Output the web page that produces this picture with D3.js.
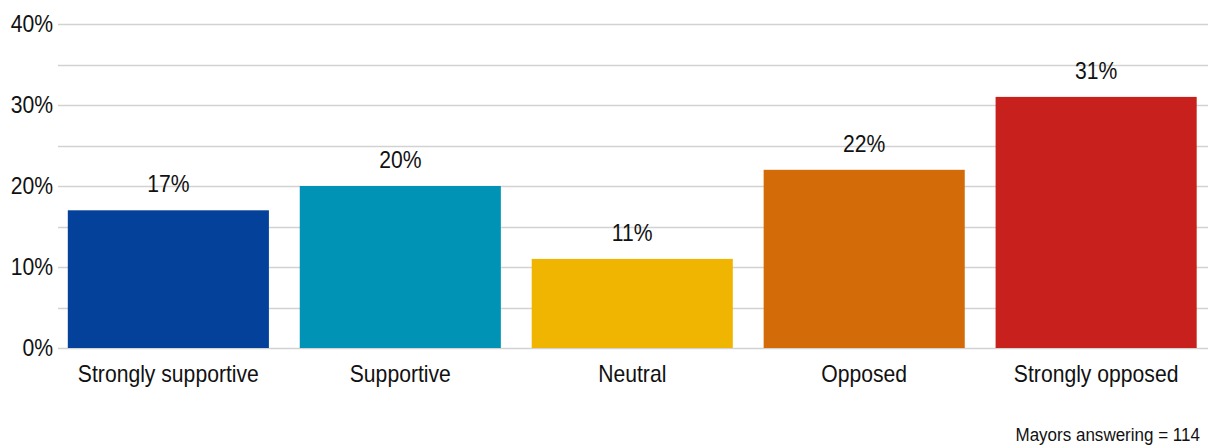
<!DOCTYPE html>
<html>
<head>
<meta charset="utf-8">
<script src="https://cdn.jsdelivr.net/npm/d3@7"></script>
<style>
  html, body { margin: 0; padding: 0; background: #fff; }
  svg text { font-family: "Liberation Sans", Arial, sans-serif; fill: #111; }
</style>
</head>
<body>
<svg id="chart" width="1220" height="446"></svg>
<script>
// Survey responses: share of mayors per position
const categories = ["Strongly supportive", "Supportive", "Neutral", "Opposed", "Strongly opposed"];
const shares = [17, 20, 11, 22, 31];
const barColors = ["#03419B", "#0093B5", "#EFB500", "#D36B09", "#C8201C"];
const tickValues = [0, 10, 20, 30, 40];
const gridValues = [0, 5, 10, 15, 20, 25, 30, 35, 40];
const note = "Mayors answering = 114";

const svg = d3.select("#chart");
const plot = { left: 58, right: 1208, top: 24, bottom: 348 };
const labelSize = 23;     // px
const narrow = 0.92;      // horizontal squeeze of the label face

const x = d3.scaleBand()
  .domain(categories)
  .range([52.5, 1212])
  .paddingInner(0.133)
  .paddingOuter(0.066);

const y = d3.scaleLinear()
  .domain([0, 40])
  .range([plot.bottom, plot.top]);

// places a slightly condensed text label at (px, py)
function label(g, px, py, str, anchor, size) {
  return g.append("text")
    .attr("transform", `translate(${px},${py}) scale(${narrow},1)`)
    .attr("text-anchor", anchor)
    .style("font-size", size + "px")
    .text(str);
}

// horizontal gridlines every 5%
svg.append("g")
  .selectAll("line")
  .data(gridValues)
  .join("line")
  .attr("x1", plot.left)
  .attr("x2", plot.right)
  .attr("y1", d => Math.round(y(d)) + 0.5)
  .attr("y2", d => Math.round(y(d)) + 0.5)
  .attr("stroke", "#d2d2d2")
  .attr("stroke-width", 1.5);

// y axis labels every 10%
const yg = svg.append("g");
tickValues.forEach(v => {
  label(yg, plot.left - 5, y(v) + 8, v + "%", "end", labelSize);
});

// bars
svg.append("g")
  .selectAll("rect")
  .data(categories)
  .join("rect")
  .attr("x", d => x(d))
  .attr("width", x.bandwidth())
  .attr("y", (d, i) => y(shares[i]))
  .attr("height", (d, i) => y(0) - y(shares[i]))
  .attr("fill", (d, i) => barColors[i]);

// value labels above bars
const vg = svg.append("g");
categories.forEach((c, i) => {
  label(vg, x(c) + x.bandwidth() / 2, y(shares[i]) - 18, shares[i] + "%", "middle", labelSize);
});

// category labels below the baseline
const cg = svg.append("g");
categories.forEach(c => {
  label(cg, x(c) + x.bandwidth() / 2, plot.bottom + 34, c, "middle", labelSize);
});

// respondent count note
label(svg, 1200, 441, note, "end", 18.5);
</script>
</body>
</html>
